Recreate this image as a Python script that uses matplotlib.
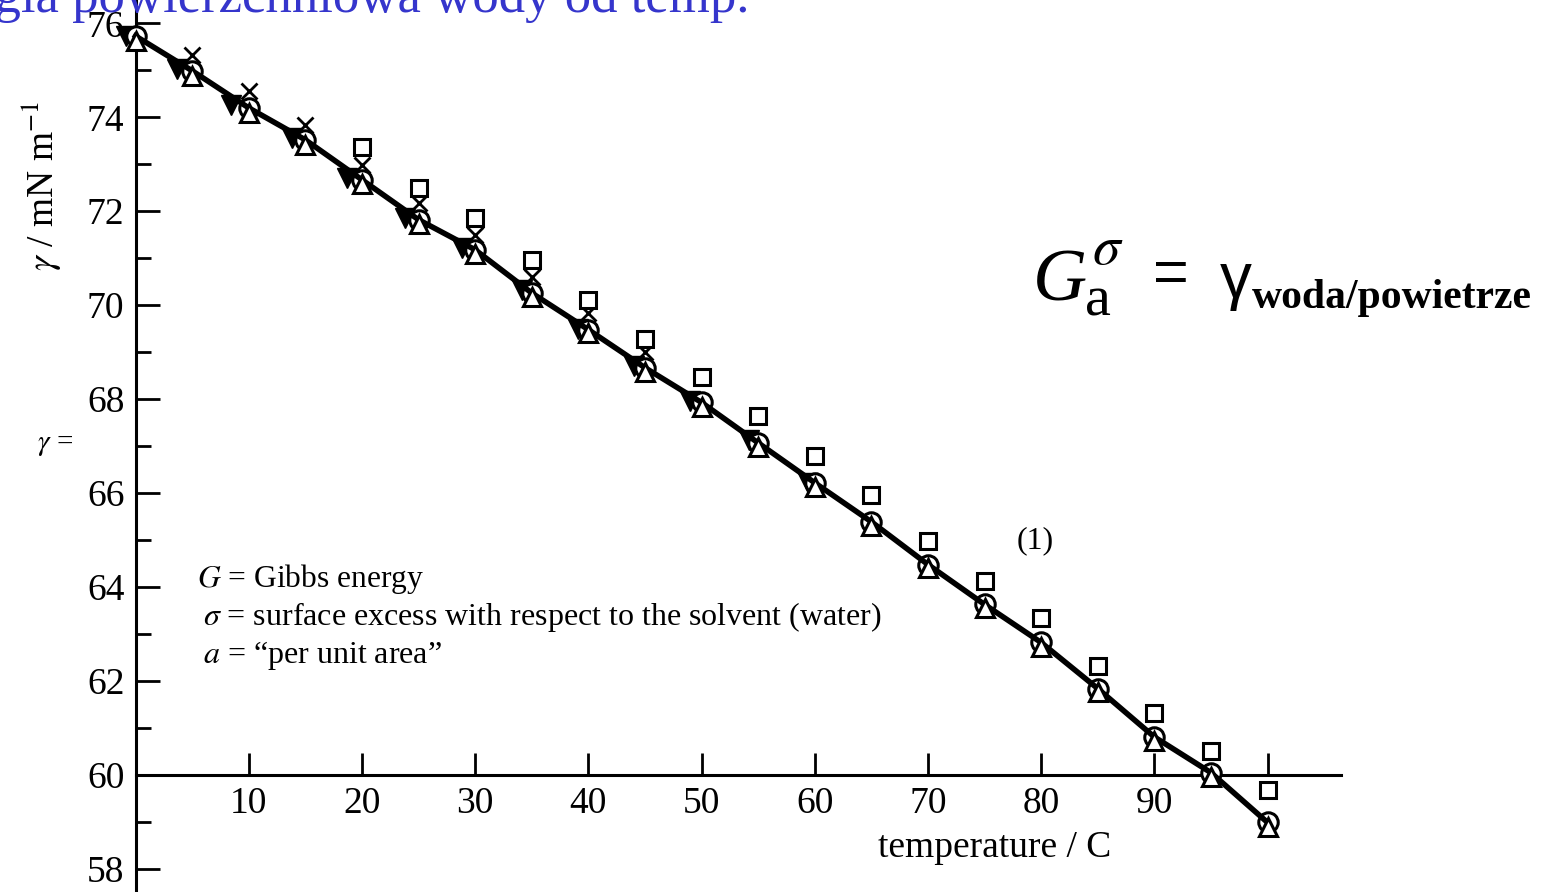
import matplotlib
matplotlib.use('Agg')
import matplotlib.pyplot as plt

plt.rcParams['font.family'] = ['Liberation Serif', 'DejaVu Serif']
plt.rcParams['mathtext.fontset'] = 'stix'

# data
temps = [0, 5, 10, 15, 20, 25, 30, 35, 40, 45, 50, 55, 60, 65, 70, 75, 80, 85, 90, 95, 100]
gamma_circle = [75.73, 74.99, 74.20, 73.52, 72.67, 71.82, 71.18, 70.26, 69.48, 68.67, 67.93,
                67.07, 66.22, 65.39, 64.48, 63.63, 62.82, 61.84, 60.81, 60.05, 58.99]
gamma_tri = [75.62, 74.88, 74.10, 73.42, 72.58, 71.72, 71.08, 70.17, 69.40, 68.58, 67.84,
             66.98, 66.14, 65.30, 64.40, 63.55, 62.72, 61.76, 60.72, 59.96, 58.90]

temps_sq = [20, 25, 30, 35, 40, 45, 50, 55, 60, 65, 70, 75, 80, 85, 90, 95, 100]
gamma_sq = [73.37, 72.50, 71.86, 70.97, 70.12, 69.29, 68.48, 67.65, 66.80, 65.95, 64.97,
            64.12, 63.35, 62.33, 61.31, 60.52, 59.69]

temps_x = [5, 10, 15, 20, 25, 30, 35, 40, 45]
gamma_x = [75.33, 74.55, 73.84, 72.99, 72.18, 71.50, 70.61, 69.84, 69.01]

temps_fill = [-0.8, 3.7, 8.4, 13.8, 18.7, 23.8, 28.8, 34.1, 39.1, 44.0, 49.0, 54.2, 59.4]
gamma_fill = [75.72, 75.02, 74.27, 73.56, 72.70, 71.85, 71.22, 70.32, 69.50, 68.71, 67.97,
              67.12, 66.22]

xticks = [10, 20, 30, 40, 50, 60, 70, 80, 90, 100]
xticklabels = ['10', '20', '30', '40', '50', '60', '70', '80', '90', '']
yticks = [58, 60, 62, 64, 66, 68, 70, 72, 74, 76]

W, H = 1554, 892
fig = plt.figure(figsize=(W / 100, H / 100), dpi=100)
ax = fig.add_axes([0, 0, 1, 1])

# pixel scale of the original: x0 at 135.5 px, 11.32 px/unit; 76 at 23.3 px, 46.98 px/unit
ax.set_xlim(-135.5 / 11.32, (W - 135.5) / 11.32)
ax.set_ylim(76.496 - H / 46.98, 76.496)


def px(x, y):
    return x / W, 1 - y / H


ax.plot(temps_fill, gamma_fill, linestyle='none', marker='v', ms=15, color='black', zorder=2)
ax.plot(temps, gamma_circle, linestyle='none', marker='o', ms=14, mfc='white',
        mec='black', mew=2.2, zorder=3)
ax.plot(temps, gamma_circle, color='black', lw=4, zorder=4)
ax.plot(temps, gamma_tri, linestyle='none', marker='^', ms=13, mfc='white',
        mec='black', mew=2.2, zorder=5)
ax.plot(temps_x, gamma_x, linestyle='none', marker='x', ms=11, color='black',
        mew=2.0, zorder=3)
ax.plot(temps_sq, gamma_sq, linestyle='none', marker='s', ms=12, mfc='white',
        mec='black', mew=2.2, zorder=5)

# axes styled like the textbook figure
for s in ['top', 'right']:
    ax.spines[s].set_visible(False)
ax.spines['left'].set_position(('data', 0))
ax.spines['bottom'].set_position(('data', 60))
ax.spines['bottom'].set_bounds(0, 106.5)
ax.spines['left'].set_linewidth(2.2)
ax.spines['bottom'].set_linewidth(2.2)

ax.set_xticks(xticks)
ax.set_xticklabels(xticklabels)
ax.set_yticks(yticks)
ax.set_yticks([59, 61, 63, 65, 67, 69, 71, 73, 75], minor=True)
ax.tick_params(axis='x', direction='in', length=16, width=2, labelsize=27, pad=8)
ax.tick_params(axis='y', which='major', direction='in', length=17, width=2,
               labelsize=27, pad=8)
ax.tick_params(axis='y', which='minor', direction='in', length=11, width=2)

# labels and notes
fig.text(*px(750, 12), 'Energia powierzchniowa wody od temp.', ha='right', va='baseline',
         fontsize=38, color='#3535CC')
fig.text(*px(42, 186), r'$\gamma$ / mN m$^{-1}$', rotation=90, ha='center', va='center',
         fontsize=27)
fig.text(*px(37, 445), r'$\gamma$ =', ha='left', va='center', fontsize=21)
fig.text(*px(878, 848), 'temperature / C', ha='left', va='center', fontsize=27)
fig.text(*px(1017, 541), '(1)', ha='left', va='center', fontsize=23)
fig.text(*px(197, 579), r'$G$ = Gibbs energy', ha='left', va='center', fontsize=22.7)
fig.text(*px(203, 617), r'$\sigma$ = surface excess with respect to the solvent (water)',
         ha='left', va='center', fontsize=23)
fig.text(*px(203, 656), r'$a$ = “per unit area”', ha='left', va='center', fontsize=23)

# formula on the right
fig.text(*px(1033, 300), 'G', ha='left', va='baseline', fontsize=54, style='italic')
fig.text(*px(1092, 264), r'$\sigma$', ha='left', va='baseline', fontsize=40)
fig.text(*px(1085, 315), 'a', ha='left', va='baseline', fontsize=42)
fig.text(*px(1153, 292), '=', ha='left', va='baseline', fontsize=44, family='Liberation Sans')
fig.text(*px(1220, 298), 'γ', ha='left', va='baseline', fontsize=46,
         family='Liberation Sans')
fig.text(*px(1252, 308), 'woda/powietrze', ha='left', va='baseline', fontsize=30,
         weight='bold')

fig.savefig('out.png', dpi=100)
